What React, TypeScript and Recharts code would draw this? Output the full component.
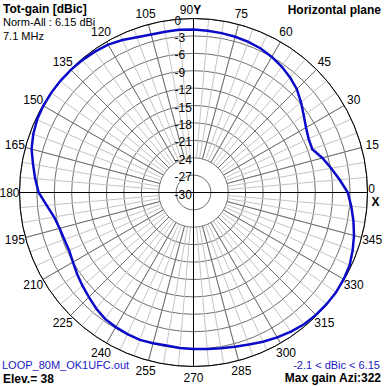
import React from 'react';
import { RadarChart, Radar, PolarGrid, PolarAngleAxis, PolarRadiusAxis } from 'recharts';

// azimuth in degrees, counter-clockwise from X
const azimuths = [
  0, 5, 10, 15, 20, 25, 30, 35, 40, 45, 50, 55, 60, 65, 70, 75, 80, 85,
  90, 95, 100, 105, 110, 115, 120, 125, 130, 135, 140, 145, 150, 155, 160, 165, 170, 175,
  180, 185, 190, 195, 200, 205, 210, 215, 220, 225, 230, 235, 240, 245, 250, 255, 260, 265,
  270, 275, 280, 285, 290, 295, 300, 305, 310, 315, 320, 325, 330, 335, 340, 345, 350, 355,
];

// normalized gain (dB below 6.15 dBi)
const gains = [
  -3.4, -4.7, -5.9, -7.0, -8.2, -8.1, -7.6, -6.8, -5.8, -4.8, -4.1, -3.5, -3.0, -2.6, -2.35, -2.2, -2.1, -2.0,
  -1.9, -1.85, -1.85, -1.8, -1.5, -1.0, -0.55, -0.35, -0.2, -0.1, -0.05, -0.05, -0.1, -0.25, -0.6, -1.1, -1.9, -2.6,
  -3.3, -4.6, -5.6, -6.1, -6.3, -6.35, -6.0, -5.5, -5.0, -4.5, -3.9, -3.4, -3.2, -3.05, -2.95, -3.1, -3.2, -3.1,
  -3.0, -2.9, -2.75, -2.45, -2.1, -1.6, -1.15, -0.7, -0.35, -0.15, -0.05, 0, -0.1, -0.3, -0.8, -1.35, -2.0, -2.7,
];

const radiusTicks = [-30, -27, -24, -21, -18, -15, -12, -9, -6, -3, 0];

const data = azimuths.map((az, i) => ({ az, gain: gains[i] }));

const CX = 193.5;
const CY = 192.5;
const R = 174;
const FONT = '"Liberation Sans", Arial, sans-serif';

const axisAngles = [0, 90, 180, 270];

const NoTick = () => <g />;

const AngleTick = (props: any) => {
  const { payload } = props;
  const v = Number(payload.value);
  if (v % 15 !== 0 || v >= 360) return <g />;
  const rad = (payload.coordinate * Math.PI) / 180;
  const tx = CX + (R + 11) * Math.cos(rad);
  const ty = CY - (R + 11) * Math.sin(rad);
  if (v === 0) {
    return (
      <g fontFamily={FONT} fontSize={12} fill="#000">
        <text x={tx - 7} y={ty - 4} textAnchor="middle" dominantBaseline="central">0</text>
        <text x={tx - 3} y={ty + 9} textAnchor="middle" dominantBaseline="central" fontWeight="bold">X</text>
      </g>
    );
  }
  if (v === 90) {
    return (
      <text x={tx - 3} y={ty + 2.5} textAnchor="middle" dominantBaseline="central" fontFamily={FONT} fontSize={12} fill="#000">
        90<tspan fontWeight="bold">Y</tspan>
      </text>
    );
  }
  const shift = v === 180 ? 1 : 0;
  return (
    <text x={tx + shift} y={ty} textAnchor="middle" dominantBaseline="central" fontFamily={FONT} fontSize={12} fill="#000">
      {v}
    </text>
  );
};

const RadiusTick = (props: any) => {
  const { x, y, payload } = props;
  return (
    <text x={x - 19} y={y + 2} dominantBaseline="central" fontFamily={FONT} fontSize={12} fill="#000">
      {payload.value}
    </text>
  );
};

const txt: React.CSSProperties = { position: 'absolute', fontFamily: FONT, fontSize: 12, lineHeight: '12px', whiteSpace: 'nowrap' };

export default function App() {
  return (
    <div style={{ position: 'absolute', left: 0, top: 0, width: 386, height: 386, background: '#fff', overflow: 'hidden' }}>
      <RadarChart
        width={386}
        height={386}
        data={data}
        cx={CX}
        cy={CY}
        innerRadius={0}
        outerRadius={R}
        startAngle={0}
        endAngle={360}
      >
        {/* rings every 3 dB */}
        <PolarGrid gridType="circle" radialLines={false} polarAngles={axisAngles} stroke="#6e6e6e" strokeWidth={1} />
        {/* 5 deg minor spokes, stop at the -24 ring */}
        <PolarAngleAxis
          dataKey="az"
          type="number"
          domain={[0, 360]}
          tickCount={73}
          orientation="inner"
          tickSize={R * 0.8}
          axisLine={false}
          tickLine={{ stroke: '#c4c4c4', strokeWidth: 1 }}
          tick={AngleTick}
        />
        {/* 15 deg major spokes */}
        <PolarAngleAxis
          angleAxisId={1}
          dataKey="az"
          type="number"
          domain={[0, 360]}
          tickCount={25}
          orientation="inner"
          tickSize={R * 0.8}
          axisLine={false}
          tickLine={{ stroke: '#6e6e6e', strokeWidth: 1 }}
          tick={NoTick}
        />
        {/* X / Y axes and outer 0 dB circle */}
        <PolarGrid zIndex={550} gridType="circle" polarAngles={axisAngles} polarRadius={[R]} stroke="#000" strokeWidth={1} />
        <PolarRadiusAxis
          angle={90}
          type="number"
          domain={[-30, 0]}
          ticks={radiusTicks}
          tick={RadiusTick}
          axisLine={false}
          tickLine={false}
        />
        <Radar
          zIndex={600}
          dataKey="gain"
          stroke="#0a0ac8"
          strokeWidth={2.5}
          fill="none"
          fillOpacity={0}
          dot={false}
          isAnimationActive={false}
        />
      </RadarChart>

      <div style={{ ...txt, left: 3, top: 2.5, fontWeight: 'bold' }}>Tot-gain [dBic]</div>
      <div style={{ ...txt, left: 3, top: 15.5, fontSize: 11 }}>Norm-All : 6.15 dBi</div>
      <div style={{ ...txt, left: 3, top: 29.5, fontSize: 11 }}>7.1 MHz</div>
      <div style={{ ...txt, right: 5, top: 3.5, fontWeight: 'bold' }}>Horizontal plane</div>
      <div style={{ ...txt, left: 2, top: 359, color: '#1a1ac0', fontSize: 11 }}>LOOP_80M_OK1UFC.out</div>
      <div style={{ ...txt, left: 3, top: 373, fontWeight: 'bold' }}>Elev.= 38</div>
      <div style={{ ...txt, right: 6, top: 359, color: '#1a1ac0', fontSize: 11 }}>-2.1 &lt; dBic &lt; 6.15</div>
      <div style={{ ...txt, right: 5, top: 372, fontWeight: 'bold' }}>Max gain Azi:322</div>
    </div>
  );
}
